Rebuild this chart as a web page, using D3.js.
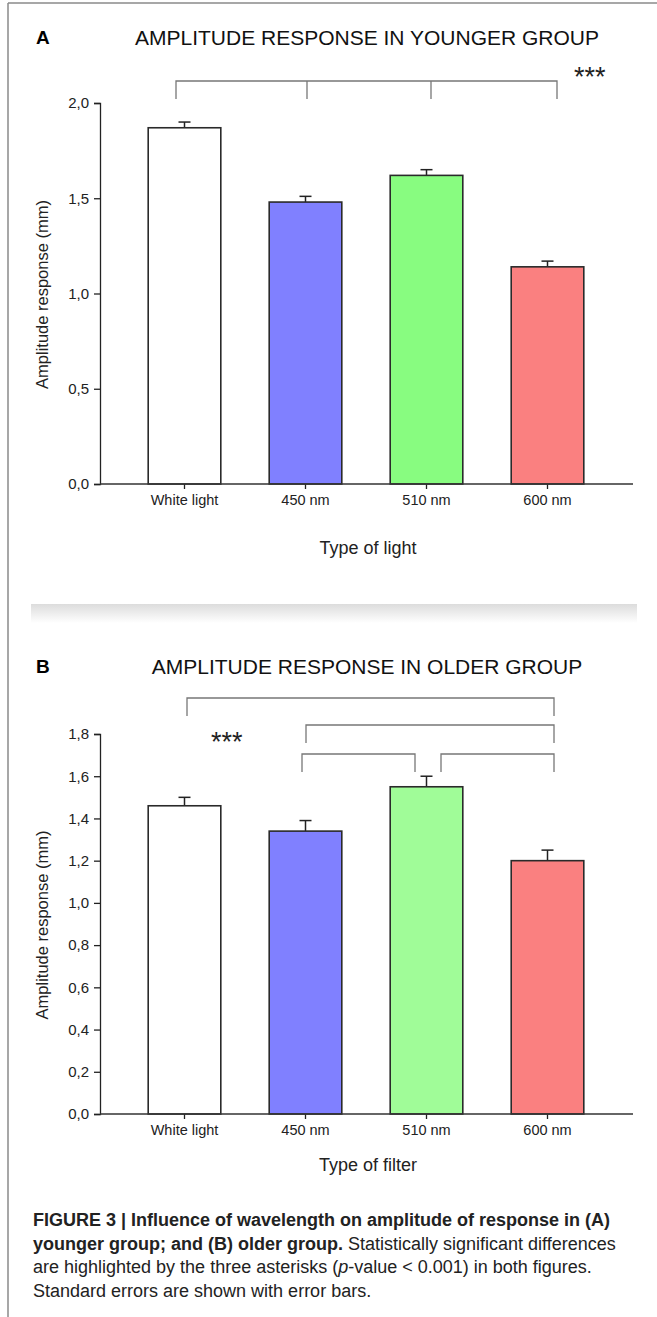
<!DOCTYPE html>
<html>
<head>
<meta charset="utf-8">
<script src="https://cdn.jsdelivr.net/npm/d3@7"></script>
<style>
  body { margin: 0; background: #fff; }
  svg { display: block; }
  .tick text { font-family: "Liberation Sans", Arial, sans-serif; }
</style>
</head>
<body>
<div id="chart"></div>
<script>
// Data
var lights = ["White light", "450 nm", "510 nm", "600 nm"];

var youngMeans = [1.87, 1.48, 1.62, 1.14];
var youngErrors = [0.03, 0.03, 0.03, 0.03];
var youngTicks = [0, 0.5, 1.0, 1.5, 2.0];

var oldMeans = [1.46, 1.34, 1.55, 1.20];
var oldErrors = [0.04, 0.05, 0.05, 0.05];
var oldTicks = [0, 0.2, 0.4, 0.6, 0.8, 1.0, 1.2, 1.4, 1.6, 1.8];

var youngColors = ["#ffffff", "#8080ff", "#88fc80", "#fa8080"];
var oldColors = ["#ffffff", "#8080ff", "#a0fc98", "#fa8080"];

// significance brackets: [from index, to index, level]
var youngBrackets = [[0, 3, 0]];
var oldBrackets = [[0, 3, 0], [1, 3, 1], [1, 2, 2], [2, 3, 2]];

var W = 657, H = 1317;
var font = "'Liberation Sans', Arial, sans-serif";

var svg = d3.select("#chart").append("svg")
    .attr("width", W)
    .attr("height", H);

// page frame
svg.append("line").attr("x1", 8).attr("x2", W).attr("y1", 3).attr("y2", 3)
    .attr("stroke", "#8a8a8a").attr("stroke-width", 1.5);
svg.append("line").attr("x1", 8).attr("x2", 8).attr("y1", 3).attr("y2", H)
    .attr("stroke", "#8a8a8a").attr("stroke-width", 1.5);

// separator shadow
var grad = svg.append("defs").append("linearGradient")
    .attr("id", "sep").attr("x1", 0).attr("x2", 0).attr("y1", 0).attr("y2", 1);
grad.append("stop").attr("offset", "0%").attr("stop-color", "#dcdcdc");
grad.append("stop").attr("offset", "100%").attr("stop-color", "#ffffff");
svg.append("rect").attr("x", 31).attr("y", 604).attr("width", 606).attr("height", 19)
    .attr("fill", "url(#sep)");

function fmt(v) {
  return d3.format(".1f")(v).replace(".", ",");
}

function drawPanel(opt) {
  var g = svg.append("g");
  var x0 = 100, x1 = 633;

  var xScale = d3.scaleBand().domain(lights)
      .range([124, 608]).paddingInner(0.4).paddingOuter(0.2);
  var yScale = d3.scaleLinear().domain([0, opt.ymax]).range([opt.bottom, opt.top]);

  // panel letter + title
  g.append("text").attr("x", 36).attr("y", opt.titleY - 1)
      .attr("font-family", font).attr("font-weight", "bold").attr("font-size", 19)
      .text(opt.letter);
  g.append("text").attr("x", 367).attr("y", opt.titleY)
      .attr("text-anchor", "middle")
      .attr("font-family", font).attr("font-size", 21).attr("fill", "#111")
      .text(opt.title);

  // bars
  var bars = g.selectAll(".bar").data(opt.means).enter();
  bars.append("line")
      .attr("x1", function(d, i) { return xScale(lights[i]) + xScale.bandwidth() / 2; })
      .attr("x2", function(d, i) { return xScale(lights[i]) + xScale.bandwidth() / 2; })
      .attr("y1", function(d) { return yScale(d); })
      .attr("y2", function(d, i) { return yScale(d + opt.errors[i]); })
      .attr("stroke", "#222").attr("stroke-width", 1.5);
  bars.append("line")
      .attr("x1", function(d, i) { return xScale(lights[i]) + xScale.bandwidth() / 2 - 6; })
      .attr("x2", function(d, i) { return xScale(lights[i]) + xScale.bandwidth() / 2 + 6; })
      .attr("y1", function(d, i) { return yScale(d + opt.errors[i]); })
      .attr("y2", function(d, i) { return yScale(d + opt.errors[i]); })
      .attr("stroke", "#222").attr("stroke-width", 1.5);
  bars.append("rect")
      .attr("x", function(d, i) { return xScale(lights[i]); })
      .attr("y", function(d) { return yScale(d); })
      .attr("width", xScale.bandwidth())
      .attr("height", function(d) { return opt.bottom - yScale(d); })
      .attr("fill", function(d, i) { return opt.colors[i]; })
      .attr("stroke", "#2a2a2a").attr("stroke-width", 1.6);

  // y axis
  var yAxis = d3.axisLeft(yScale).tickValues(opt.ticks).tickFormat(fmt)
      .tickSizeOuter(0).tickSize(6).tickPadding(5);
  var ya = g.append("g").attr("transform", "translate(" + x0 + ",0)").call(yAxis);
  ya.selectAll("text").attr("font-size", 15).attr("fill", "#222");
  ya.selectAll("line, path").attr("stroke", "#222").attr("stroke-width", 1.3);

  // x axis
  var xAxis = d3.axisBottom(xScale).tickSize(5).tickSizeOuter(0).tickPadding(6);
  var xa = g.append("g").attr("transform", "translate(0," + opt.bottom + ")").call(xAxis);
  xa.select(".domain").remove();
  xa.selectAll("line").attr("stroke", "#222").attr("stroke-width", 1.3);
  xa.selectAll("text").attr("font-size", 14.5).attr("fill", "#222");
  g.append("line").attr("x1", x0).attr("x2", x1)
      .attr("y1", opt.bottom).attr("y2", opt.bottom)
      .attr("stroke", "#333").attr("stroke-width", 1.5);

  // axis titles
  g.append("text")
      .attr("transform", "translate(48," + ((opt.top + opt.bottom) / 2 + 1) + ") rotate(-90)")
      .attr("text-anchor", "middle")
      .attr("font-family", font).attr("font-size", 16.5).attr("fill", "#222")
      .text("Amplitude response (mm)");
  g.append("text").attr("x", 368).attr("y", opt.xTitleY)
      .attr("text-anchor", "middle")
      .attr("font-family", font).attr("font-size", 18).attr("fill", "#222")
      .text(opt.xTitle);

  // significance brackets
  opt.brackets.forEach(function(b, k) {
    var y = opt.bracketY[b[2]];
    var xa0 = opt.bracketX[k][0], xa1 = opt.bracketX[k][1];
    g.append("path")
        .attr("d", "M" + xa0 + "," + (y + 18) + "V" + y + "H" + xa1 + "V" + (y + 18))
        .attr("fill", "none").attr("stroke", "#777").attr("stroke-width", 1.3);
    if (opt.midTicks && k === 0) {
      opt.midTicks.forEach(function(mx) {
        g.append("line").attr("x1", mx).attr("x2", mx)
            .attr("y1", y).attr("y2", y + 18)
            .attr("stroke", "#777").attr("stroke-width", 1.3);
      });
    }
  });
  g.append("text").attr("x", opt.starX).attr("y", opt.starY)
      .attr("font-family", font).attr("font-size", 27).attr("fill", "#222")
      .text("***");
}

drawPanel({
  letter: "A", title: "AMPLITUDE RESPONSE IN YOUNGER GROUP", titleY: 45,
  means: youngMeans, errors: youngErrors, colors: youngColors, ticks: youngTicks,
  ymax: 2.0, top: 103, bottom: 484, xTitle: "Type of light", xTitleY: 554,
  brackets: youngBrackets, bracketY: [81], bracketX: [[176, 557]], midTicks: [307, 431],
  starX: 574, starY: 86
});

drawPanel({
  letter: "B", title: "AMPLITUDE RESPONSE IN OLDER GROUP", titleY: 674,
  means: oldMeans, errors: oldErrors, colors: oldColors, ticks: oldTicks,
  ymax: 1.8, top: 734, bottom: 1114, xTitle: "Type of filter", xTitleY: 1171,
  brackets: oldBrackets, bracketY: [698, 725, 754],
  bracketX: [[187, 554], [306, 554], [302, 415], [441, 554]],
  starX: 211, starY: 751
});

// caption
var cap = svg.append("text").attr("font-family", "'Liberation Sans Narrow', 'Liberation Sans', Arial, sans-serif")
    .attr("font-size", 18).attr("fill", "#222");
var capLines = [
  [["FIGURE 3 | Influence of wavelength on amplitude of response in (A)", "bold"]],
  [["younger group; and (B) older group.", "bold"], [" Statistically significant differences", "normal"]],
  [["are highlighted by the three asterisks (", "normal"], ["p", "italic"], ["-value < 0.001) in both figures.", "normal"]],
  [["Standard errors are shown with error bars.", "normal"]]
];
capLines.forEach(function(line, i) {
  var t = cap.append("tspan").attr("x", 33).attr("y", 1226 + i * 23.5);
  line.forEach(function(seg, j) {
    var s = j === 0 ? t : cap.append("tspan");
    s.text(seg[0]);
    if (seg[1] === "bold") s.attr("font-weight", "bold");
    if (seg[1] === "italic") s.attr("font-style", "italic");
  });
});
</script>
</body>
</html>
